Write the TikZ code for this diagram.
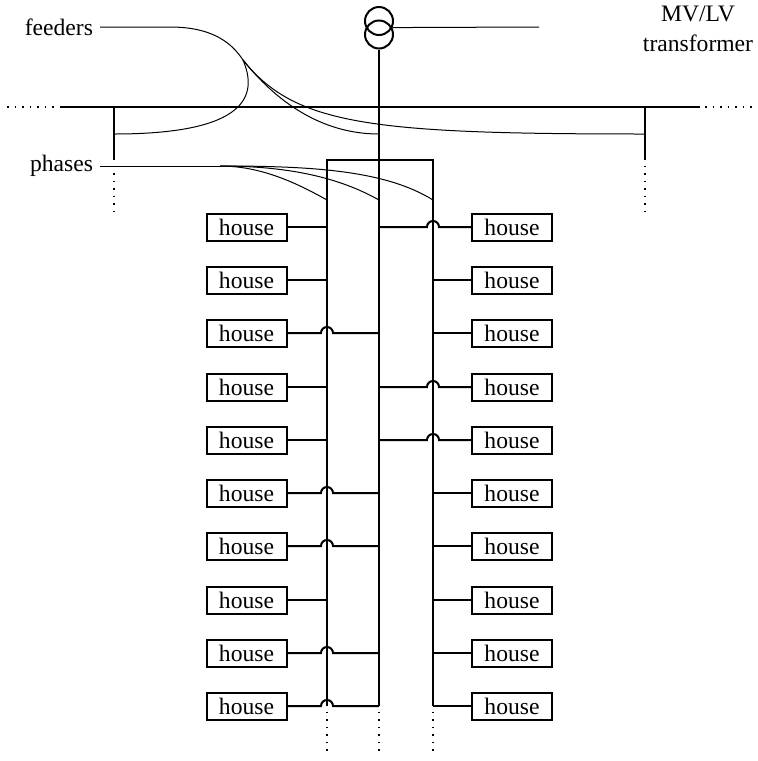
\documentclass[tikz,border=0pt]{standalone}
\usepackage{fontspec}
\setmainfont{Liberation Serif}
\usetikzlibrary{calc}
\tikzset{
  wire/.style={line width=1pt},
  feedline/.style={line width=0.5pt},
  dotline/.style={line width=1pt, dash pattern=on 0.9pt off 2.85pt},
  housebox/.style={
    rectangle, draw, line width=1pt,
    minimum width=40pt, minimum height=13.5pt, inner sep=0pt,
    font=\fontsize{11.8}{14}\selectfont
  },
  trafo/.style={circle, draw, line width=1pt, minimum size=14pt, inner sep=0pt},
  tag/.style={font=\fontsize{11.8}{15}\selectfont, align=center}
}

\begin{document}
\begin{tikzpicture}[x=0.5pt, y=-0.5pt]
\useasboundingbox (0,0) rectangle (757,761);

%% TRANSFORMER
\node[trafo] (trafoTop) at (379,21) {};
\node[trafo] (trafoBot) at (379,34.5) {};
\coordinate (mvEnd) at (539,27);
\draw[feedline] (trafoTop.-26) -- (mvEnd);

%% LABELS
\node[tag, anchor=east] (feeders) at (100,27) {feeders};
\node[tag, anchor=east] (phases) at (100,166) {phases};
\node[tag] (trafoLabel) at (698,29) {MV/LV\\transformer};

%% BUS AND STUBS
\coordinate (busL) at (60,107);
\coordinate (busR) at (700,107);
\coordinate (busDotsL) at (7,107);
\coordinate (busDotsR) at (753,107);
\coordinate (stubL) at (114,107);
\coordinate (stubR) at (645,107);
\coordinate (stubEndL) at (114,160);
\coordinate (stubEndR) at (645,160);
\coordinate (stubDotsL) at (114,214);
\coordinate (stubDotsR) at (645,214);
\draw[wire] (busL) -- (busR);
\draw[dotline] (busDotsL) -- (busL);
\draw[dotline] (busR) ++(5,0) -- (busDotsR);
\draw[wire] (stubL) -- (stubEndL);
\draw[wire] (stubR) -- (stubEndR);
\draw[dotline] (stubEndL) ++(0,5.5) -- (stubDotsL);
\draw[dotline] (stubEndR) ++(0,5.5) -- (stubDotsR);

%% PHASES
\coordinate (phaseA) at (327,160);
\coordinate (phaseB) at (379,160);
\coordinate (phaseC) at (433,160);
\coordinate (phaseEndA) at (327,706);
\coordinate (phaseEndB) at (379,706);
\coordinate (phaseEndC) at (433,706);
\draw[wire] (phaseEndA) -- (phaseA) -- (phaseC) -- (phaseEndC);
\draw[wire] (trafoBot.south) -- (phaseEndB);
\foreach \p in {A,B,C}
  \draw[dotline] (phaseEnd\p) ++(0,5.5) -- ++(0,41);

%% HOUSES
\foreach \i/\y in {1/227,2/280,3/333,4/387,5/440,6/493,7/546,8/600,9/653,10/706} {
  \node[housebox] (houseL\i) at (246.5,\y) {house};
  \node[housebox] (houseR\i) at (512,\y) {house};
}

% left side
\foreach \i in {1,2,4,5,8}
  \draw[wire] (houseL\i.east) -- (houseL\i.east -| phaseA);
\foreach \i in {3,6,7,9,10}
  \draw[wire] (houseL\i.east) -- ($(houseL\i.east -| phaseA)+(-3pt,0)$)
    arc[start angle=180, end angle=0, radius=3pt] -- (houseL\i.east -| phaseB);

% right side
\foreach \i in {2,3,6,7,8,9,10}
  \draw[wire] (houseR\i.west) -- (houseR\i.west -| phaseC);
\foreach \i in {1,4,5}
  \draw[wire] (houseR\i.west -| phaseB) -- ($(houseR\i.west -| phaseC)+(-3pt,0)$)
    arc[start angle=180, end angle=0, radius=3pt] -- (houseR\i.west);

%% FEEDER CURVES
\coordinate (fan) at (243,60);
\coordinate (feedL) at (114,134);
\coordinate (feedM) at (379,134);
\coordinate (feedR) at (645,134);
\draw[feedline] (feeders.east) -- (170,27) .. controls (215,27) and (233,45) .. (fan);
\draw[feedline] (fan) .. controls (258,95) and (248,134) .. (feedL);
\draw[feedline] (fan) .. controls (275,100) and (320,134) .. (feedM);
\draw[feedline] (fan) .. controls (295,125) and (370,134) .. (feedR);

%% PHASE CURVES
\coordinate (fanP) at (220,166);
\draw[feedline] (phases.east) -- (fanP);
\draw[feedline] (fanP) .. controls (260,166) and (295,182) .. (327,200);
\draw[feedline] (fanP) .. controls (290,166) and (340,178) .. (379,200);
\draw[feedline] (fanP) .. controls (310,166) and (385,170) .. (433,200);

\end{tikzpicture}
\end{document}
